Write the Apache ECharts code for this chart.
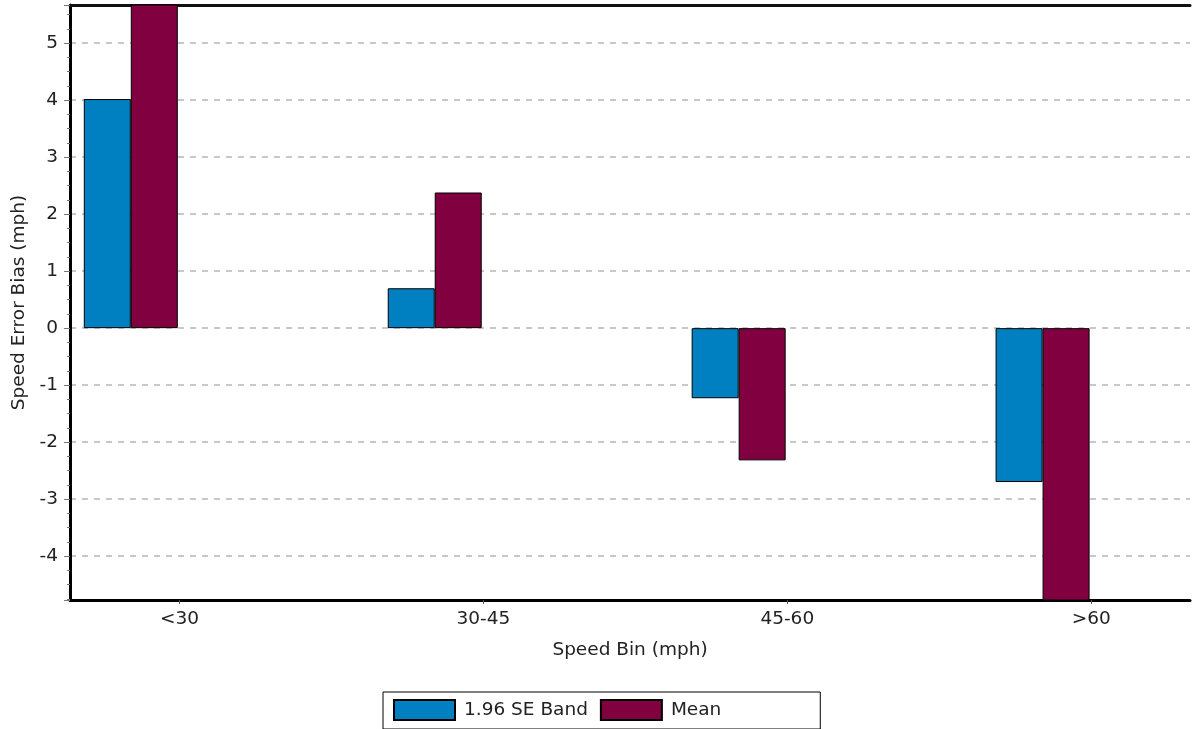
<!DOCTYPE html>
<html>
<head>
<meta charset="utf-8">
<title>Speed Error Bias by Speed Bin</title>
<script src="https://cdn.jsdelivr.net/npm/echarts@6/dist/echarts.min.js"></script>
<style>
  html, body { margin: 0; padding: 0; background: #ffffff; }
  #chart { width: 1196px; height: 729px; }
</style>
</head>
<body>
<div id="chart"></div>
<script>
// Speed bins on the horizontal axis
const speedBins = ['<30', '30-45', '45-60', '>60'];
// Half-width of the 1.96 standard-error band per bin (mph)
const seBand = [4.02, 0.70, -1.23, -2.70];
// Mean speed error bias per bin (mph); first and last run past the plot edges
const meanBias = [6.1, 2.38, -2.32, -5.3];

// Visible value range of the bias axis
const yMin = -4.77;
const yMax = 5.67;
// Horizontal extent of the bar axis (bin index units) and offset of the bin labels
const xMin = -0.2;
const xMax = 3.485;
const labelShift = 0.16;

const chart = echarts.init(document.getElementById('chart'));

const font = 'DejaVu Sans, Verdana, sans-serif';
const fontSize = 18.5;
const textColor = '#222222';

function binPoints(values) {
  return values.map((v, i) => [i, v]);
}

chart.setOption({
  backgroundColor: '#ffffff',
  animation: false,
  grid: { left: 70, right: 6, top: 5, bottom: 129, containLabel: false },
  legend: {
    left: 383,
    top: 692,
    orient: 'horizontal',
    padding: [7, 99, 8, 10],
    borderColor: '#000000',
    borderWidth: 1,
    itemWidth: 61,
    itemHeight: 20,
    itemGap: 12,
    icon: 'rect',
    textStyle: { fontFamily: font, fontSize: fontSize, color: textColor, padding: [0, 0, 0, 4] },
    data: ['1.96 SE Band', 'Mean']
  },
  xAxis: [
    {
      // axis that positions the bars; also draws the top frame line
      type: 'value',
      position: 'top',
      min: xMin,
      max: xMax,
      axisLine: { show: true, onZero: false, lineStyle: { color: '#111111', width: 3 } },
      axisTick: { show: false },
      axisLabel: { show: false },
      splitLine: { show: false }
    },
    {
      // bin labels along the bottom
      type: 'value',
      position: 'bottom',
      min: xMin - labelShift,
      max: xMax - labelShift,
      splitNumber: 4,
      name: 'Speed Bin (mph)',
      nameLocation: 'middle',
      nameGap: 41,
      nameTextStyle: { fontFamily: font, fontSize: fontSize, color: textColor },
      axisLine: { show: true, onZero: false, lineStyle: { color: '#000000', width: 3 } },
      axisTick: { show: true, length: 4, lineStyle: { color: '#555555', width: 1 } },
      axisLabel: {
        show: true,
        margin: 10,
        fontFamily: font,
        fontSize: fontSize,
        color: textColor,
        showMinLabel: false,
        showMaxLabel: false,
        formatter: function (v) {
          const i = Math.round(v);
          return Math.abs(v - i) < 1e-6 && speedBins[i] !== undefined ? speedBins[i] : '';
        }
      },
      splitLine: { show: false }
    }
  ],
  yAxis: {
    type: 'value',
    min: yMin,
    max: yMax,
    minInterval: 1,
    maxInterval: 1,
    splitNumber: 10,
    name: 'Speed Error Bias (mph)',
    nameLocation: 'middle',
    nameGap: 41,
    nameTextStyle: { fontFamily: font, fontSize: fontSize, color: textColor },
    axisLine: { show: true, onZero: false, lineStyle: { color: '#000000', width: 3 } },
    axisTick: { show: true, length: 6, lineStyle: { color: '#777777', width: 1 } },
    minorTick: { show: true, splitNumber: 4, length: 3, lineStyle: { color: '#777777', width: 1 } },
    axisLabel: {
      margin: 12,
      fontFamily: font,
      fontSize: fontSize,
      color: textColor,
      showMinLabel: false,
      showMaxLabel: false,
      formatter: function (v) {
        return Math.abs(v - Math.round(v)) < 1e-6 ? String(Math.round(v)) : '';
      }
    },
    splitLine: { show: true, lineStyle: { color: '#c8c8c8', width: 2, type: [6, 6] } }
  },
  series: [
    {
      name: '1.96 SE Band',
      type: 'bar',
      xAxisIndex: 0,
      barWidth: 47,
      barGap: '0%',
      data: binPoints(seBand),
      itemStyle: { color: '#0080c0', borderColor: '#000000', borderWidth: 1 }
    },
    {
      name: 'Mean',
      type: 'bar',
      xAxisIndex: 0,
      barWidth: 47,
      barGap: '0%',
      data: binPoints(meanBias),
      itemStyle: { color: '#800040', borderColor: '#000000', borderWidth: 1 }
    }
  ]
});
</script>
</body>
</html>
